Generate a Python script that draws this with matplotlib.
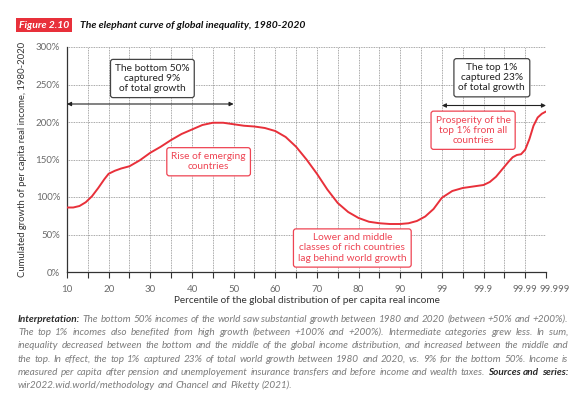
import numpy as np
import matplotlib
matplotlib.use("Agg")
import matplotlib.pyplot as plt
import matplotlib.transforms as mtrans

plt.rcParams["font.family"] = ["Lato", "DejaVu Sans"]

# ── data (x = position on the percentile scale, one step per grid column) ──
tick_pos    = [0, 2, 4, 6, 8, 10, 12, 14, 16, 18, 20, 22, 23]
tick_labels = ["10", "20", "30", "40", "50", "60", "70", "80", "90",
               "99", "99.9", "99.99", "99.999"]

curve_pos = [0.0, 0.3, 0.6, 0.9, 1.2, 1.5, 1.8, 2.0, 2.3, 2.6, 3.0, 3.5,
             4.0, 4.5, 5.0, 5.5, 6.0, 6.5, 7.0, 7.5, 8.0, 8.5, 9.0, 9.5,
             10.0, 10.5, 11.0, 11.5, 12.0, 12.5, 13.0, 13.5, 14.0, 14.5,
             15.0, 15.5, 16.0, 16.4, 16.8, 17.2, 17.6, 18.0, 18.5, 19.0,
             19.5, 20.0, 20.3, 20.6, 20.9, 21.2, 21.4, 21.6, 21.8, 22.0,
             22.2, 22.4, 22.6, 22.8, 23.0]
growth    = [86, 86, 88, 93, 101, 112, 124, 131, 135, 138, 141, 149,
             159, 167, 176, 184, 190, 196, 199, 199, 197, 195, 194, 192,
             188, 180, 167, 150, 131, 110, 92, 80, 72, 67,
             65, 64, 64, 65, 68, 74, 84, 99, 108, 112,
             114, 116, 120, 127, 137, 147, 153, 156, 157, 163,
             177, 195, 206, 211, 214]

RED = "#e8303a"
RED_TXT = "#ee4453"
GRID = "#8a8a8a"

fig = plt.figure(figsize=(5.85, 3.99), dpi=100)
ax = fig.add_axes([67 / 585, 1 - 272 / 399, (546 - 67) / 585, 225 / 399])

ax.plot(curve_pos, growth, color=RED, lw=1.4, zorder=3, solid_capstyle="round")

ax.set_xlim(0, 23)
ax.set_ylim(0, 300)
ax.set_xticks(tick_pos)
ax.set_xticklabels(tick_labels)
ax.set_xticks(range(0, 24), minor=True)
ax.tick_params(axis="x", which="both", length=4, width=0.8, color="#333333",
               direction="out", pad=5, labelsize=7, labelcolor="#6b6b6b")

ax.set_yticks(range(0, 301, 50))
ax.set_yticklabels([f"{v}%" for v in range(0, 301, 50)])
ax.tick_params(axis="y", length=0, pad=5, labelsize=7, labelcolor="#6b6b6b")

ax.grid(True, axis="x", which="both", color=GRID, lw=0.6, linestyle=(0, (1, 1)))
ax.grid(True, axis="y", which="major", color=GRID, lw=0.6, linestyle=(0, (1, 1)))
for s in ["top", "right"]:
    ax.spines[s].set_visible(False)
for s in ["left", "bottom"]:
    ax.spines[s].set_color("#333333")
    ax.spines[s].set_linewidth(0.9)

ax.set_ylabel("Cumulated growth of per capita real income, 1980-2020",
              fontsize=6.8, color="#333333", labelpad=6)
ax.set_xlabel("Percentile of the global distribution of per capita real income",
              fontsize=7.2, color="#333333", labelpad=2)
ax.xaxis.set_label_coords(0.5, -0.105)

# the last label sits just right of its tick
for lbl in ax.get_xticklabels():
    if lbl.get_text() == "99.999":
        lbl.set_transform(lbl.get_transform() +
                          mtrans.ScaledTranslation(9 / 100, 0, fig.dpi_scale_trans))

# ── annotations ──
black_box = dict(boxstyle="round,pad=0.45,rounding_size=0.25", fc="white",
                 ec="#444444", lw=0.9)
red_box = dict(boxstyle="round,pad=0.45,rounding_size=0.25", fc="white",
               ec=RED_TXT, lw=0.9)

ax.text(4.1, 258, "The bottom 50%\ncaptured 9%\nof total growth", ha="center",
        va="center", fontsize=7.3, color="#222222", linespacing=1.15,
        bbox=black_box, zorder=5)
ax.text(20.4, 259, "The top 1%\ncaptured 23%\nof total growth", ha="center",
        va="center", fontsize=7.3, color="#222222", linespacing=1.15,
        bbox=black_box, zorder=5)
ax.annotate("", xy=(0, 224), xytext=(8, 224),
            arrowprops=dict(arrowstyle="<|-|>", color="#222222", lw=0.8,
                            mutation_scale=6, shrinkA=0, shrinkB=0))
ax.annotate("", xy=(18, 222), xytext=(23, 222),
            arrowprops=dict(arrowstyle="<|-|>", color="#222222", lw=0.8,
                            mutation_scale=6, shrinkA=0, shrinkB=0),
            annotation_clip=False)

ax.text(6.8, 147, "Rise of emerging\ncountries", ha="center", va="center",
        fontsize=7.3, color=RED_TXT, linespacing=1.15, bbox=red_box, zorder=5)
ax.text(19.5, 189, "Prosperity of the\ntop 1% from all\ncountries", ha="center",
        va="center", fontsize=7.3, color=RED_TXT, linespacing=1.15,
        bbox=red_box, zorder=5)
ax.text(13.7, 32, "Lower and middle\nclasses of rich countries\nlag behind world growth",
        ha="center", va="center", fontsize=7.3, color=RED_TXT, linespacing=1.15,
        bbox=red_box, zorder=5)

# ── title ──
fig.text(19 / 585, 1 - 25 / 399, "Figure 2.10", ha="left", va="center",
         fontsize=7.5, style="italic", weight="bold", color="white",
         bbox=dict(boxstyle="square,pad=0.25", fc="#e8303a", ec="none"))
fig.text(80 / 585, 1 - 25 / 399,
         "The elephant curve of global inequality, 1980-2020", ha="left",
         va="center", fontsize=7.5, style="italic", weight="bold",
         color="#111111")

# ── justified note paragraph ──
note_lines = [
    "Interpretation: The bottom 50% incomes of the world saw substantial growth between 1980 and 2020 (between +50% and +200%).",
    "The top 1% incomes also benefited from high growth (between +100% and +200%). Intermediate categories grew less. In sum,",
    "inequality decreased between the bottom and the middle of the global income distribution, and increased between the middle and",
    "the top. In effect, the top 1% captured 23% of total world growth between 1980 and 2020, vs. 9% for the bottom 50%. Income is",
    "measured per capita after pension and unemployement insurance transfers and before income and wealth taxes. Sources and series:",
    "wir2022.wid.world/methodology and Chancel and Piketty (2021).",
]
bold_words = {(0, 0), (4, -3), (4, -2), (4, -1)}

renderer = fig.canvas.get_renderer()
x0, x1 = 18, 568
y_first, step = 322, 13.2
for i, line in enumerate(note_lines):
    words = line.split(" ")
    n = len(words)
    objs = []
    for j, w in enumerate(words):
        bold = (i, j) in bold_words or (i, j - n) in bold_words
        t = fig.text(0, 1 - round(y_first + i * step) / 399, w, ha="left",
                     va="baseline", fontsize=7.2, style="italic",
                     weight="bold" if bold else "normal",
                     color="#2a2a2a" if bold else "#7c7c7c")
        objs.append(t)
    widths = [o.get_window_extent(renderer).width for o in objs]
    if i < len(note_lines) - 1:
        gap = max((x1 - x0 - sum(widths)) / (n - 1), 1.2)
    else:
        gap = 2.6
    x = x0
    for o, w in zip(objs, widths):
        o.set_x(x / 585)
        x += w + gap

fig.savefig("out.png", dpi=100)
